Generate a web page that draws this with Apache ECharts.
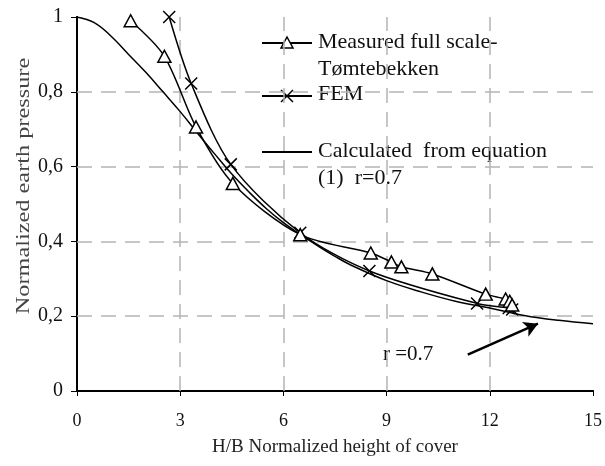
<html>
<head>
<meta charset="UTF-8">
<script src="https://cdn.jsdelivr.net/npm/echarts@6/dist/echarts.min.js"></script>
<title>Normalized earth pressure</title>
</head>
<body style="margin:0; background:#fff;">
<div id="main" style="width: 605px; height: 466px;"></div>
<script type="text/javascript">
	// measured full scale (Tømtebekken)
	var measuredX = [1.56, 2.54, 3.46, 4.53, 6.49, 8.54, 9.14, 9.43, 10.33, 11.88, 12.46, 12.58, 12.65];
	var measuredY = [0.99, 0.895, 0.706, 0.555, 0.418, 0.369, 0.345, 0.332, 0.313, 0.259, 0.246, 0.24, 0.23];
	// FEM
	var femX = [2.68, 3.32, 4.47, 6.49, 8.5, 11.63, 12.55, 12.65];
	var femY = [1.0, 0.822, 0.606, 0.423, 0.321, 0.234, 0.222, 0.218];
	// calculated from equation (1), r=0.7
	var calcX = [0, 0.5, 1, 1.5, 2, 2.5, 3, 3.5, 4, 4.5, 5, 5.5, 6, 6.5, 7, 7.5, 8, 9, 10, 11, 12, 13, 14, 15];
	var calcY = [1.0, 0.985, 0.948, 0.9, 0.852, 0.8, 0.747, 0.69, 0.634, 0.58, 0.532, 0.488, 0.45, 0.418, 0.388, 0.36, 0.335, 0.295, 0.265, 0.24, 0.222, 0.202, 0.189, 0.18];
	// inner grid lines
	var xGrid = [3, 6, 9, 12];
	var yGrid = [0.2, 0.4, 0.6, 0.8];

	function pairs(xs, ys) {
		var out = [];
		for (var i = 0; i < xs.length; i++) {
			out.push([xs[i], ys[i]]);
		}
		return out;
	}

	var gridMarks = [];
	for (var i = 0; i < xGrid.length; i++) gridMarks.push({ xAxis: xGrid[i] });
	for (var j = 0; j < yGrid.length; j++) gridMarks.push({ yAxis: yGrid[j] });

	var font = '"Liberation Serif", "DejaVu Serif", serif';
	var crossPath = 'path://M0,0L10,10M10,0L0,10';
	var triPath = 'path://M5,0L10,9L0,9Z';

	var myChart = echarts.init(document.getElementById('main'));
	var option = {
		backgroundColor: '#fff',
		animation: false,
		grid: { left: 77, right: 8, top: 17, bottom: 75 },
		xAxis: [{
			type: 'value', min: 0, max: 15, interval: 3,
			name: 'H/B Normalized height of cover',
			nameLocation: 'middle', nameGap: 47,
			nameTextStyle: { fontFamily: font, fontSize: 19, color: '#222' },
			axisLine: { show: true, lineStyle: { color: '#000', width: 2 } },
			axisTick: { show: true, length: 5, lineStyle: { color: '#000' } },
			axisLabel: { fontFamily: font, fontSize: 18, color: '#111', margin: 21 },
			splitLine: { show: false }
		}, {
			// top frame line
			type: 'value', position: 'top', min: 0, max: 15, interval: 3,
			axisLine: { show: true, lineStyle: { color: '#000', width: 2 } },
			axisTick: { show: false }, axisLabel: { show: false }, splitLine: { show: false }
		}],
		yAxis: [{
			type: 'value', min: 0, max: 1, interval: 0.2,
			axisLine: { show: true, lineStyle: { color: '#000', width: 2 } },
			axisTick: { show: true, length: 6, lineStyle: { color: '#000' } },
			axisLabel: {
				fontFamily: font, fontSize: 20, color: '#111', margin: 14,
				formatter: function (v) { return String(+v.toFixed(1)).replace('.', ','); }
			},
			splitLine: { show: false }
		}, {
			// right frame line
			type: 'value', position: 'right', min: 0, max: 1, interval: 0.2,
			axisLine: { show: true, lineStyle: { color: '#000', width: 2 } },
			axisTick: { show: false }, axisLabel: { show: false }, splitLine: { show: false }
		}],
		series: [{
			// dashed grid, drawn under the curves
			name: 'grid', type: 'line', z: 1, silent: true,
			data: pairs(calcX, calcY), showSymbol: false,
			lineStyle: { width: 0, opacity: 0 },
			markLine: {
				silent: true, symbol: ['none', 'none'], z: 1,
				lineStyle: { color: '#b4b4b4', type: [15, 9], width: 1.5 },
				label: { show: false },
				data: gridMarks
			}
		}, {
			name: 'Calculated', type: 'line', smooth: 0.4,
			data: pairs(calcX, calcY), showSymbol: false,
			lineStyle: { color: '#000', width: 1.5 },
			markLine: {
				silent: true, symbol: ['none', 'arrow'], symbolSize: [12, 14],
				lineStyle: { color: '#000', width: 2.5, type: 'solid' },
				label: { show: false },
				data: [[{ coord: [11.36, 0.097] }, { coord: [13.4, 0.18] }]]
			}
		}, {
			name: 'FEM', type: 'line', smooth: 0.3,
			data: pairs(femX, femY),
			symbol: crossPath, symbolSize: 12,
			itemStyle: { color: 'none', borderColor: '#000', borderWidth: 1.5 },
			lineStyle: { color: '#000', width: 1.5 }
		}, {
			name: 'Measured', type: 'line', smooth: 0.3,
			data: pairs(measuredX, measuredY),
			symbol: triPath, symbolSize: [13, 12],
			itemStyle: { color: '#fff', borderColor: '#000', borderWidth: 1.5 },
			lineStyle: { color: '#000', width: 1.5 }
		}],
		graphic: [
			// y axis title, stretched like the original
			{
				type: 'text', x: 24, y: 186, rotation: Math.PI / 2, scaleX: 1.35,
				style: { text: 'Normalized earth pressure', font: '18px ' + font, fill: '#444', align: 'center', verticalAlign: 'middle' }
			},
			// legend
			{ type: 'line', shape: { x1: 262, y1: 43, x2: 312, y2: 43 }, style: { stroke: '#000', lineWidth: 2 } },
			{ type: 'polygon', shape: { points: [[287, 37], [293, 48], [281, 48]] }, style: { fill: '#fff', stroke: '#000', lineWidth: 1.5 } },
			{ type: 'text', left: 318, top: 29, style: { text: 'Measured full scale-\nTømtebekken', font: '22px ' + font, fill: '#111', lineHeight: 27 } },
			{ type: 'line', shape: { x1: 262, y1: 96, x2: 312, y2: 96 }, style: { stroke: '#000', lineWidth: 2 } },
			{ type: 'line', shape: { x1: 281, y1: 90, x2: 293, y2: 102 }, style: { stroke: '#000', lineWidth: 1.5 } },
			{ type: 'line', shape: { x1: 293, y1: 90, x2: 281, y2: 102 }, style: { stroke: '#000', lineWidth: 1.5 } },
			{ type: 'text', left: 318, top: 83, style: { text: 'FEM', font: '22px ' + font, fill: '#111' } },
			{ type: 'line', shape: { x1: 262, y1: 152, x2: 312, y2: 152 }, style: { stroke: '#000', lineWidth: 2 } },
			{ type: 'text', left: 318, top: 138, style: { text: 'Calculated  from equation\n(1)  r=0.7', font: '22px ' + font, fill: '#111', lineHeight: 27 } },
			// annotation
			{ type: 'text', left: 383, top: 344, style: { text: 'r =0.7', font: '21px ' + font, fill: '#111' } }
		]
	};
	myChart.setOption(option);
</script>
</body>
</html>
